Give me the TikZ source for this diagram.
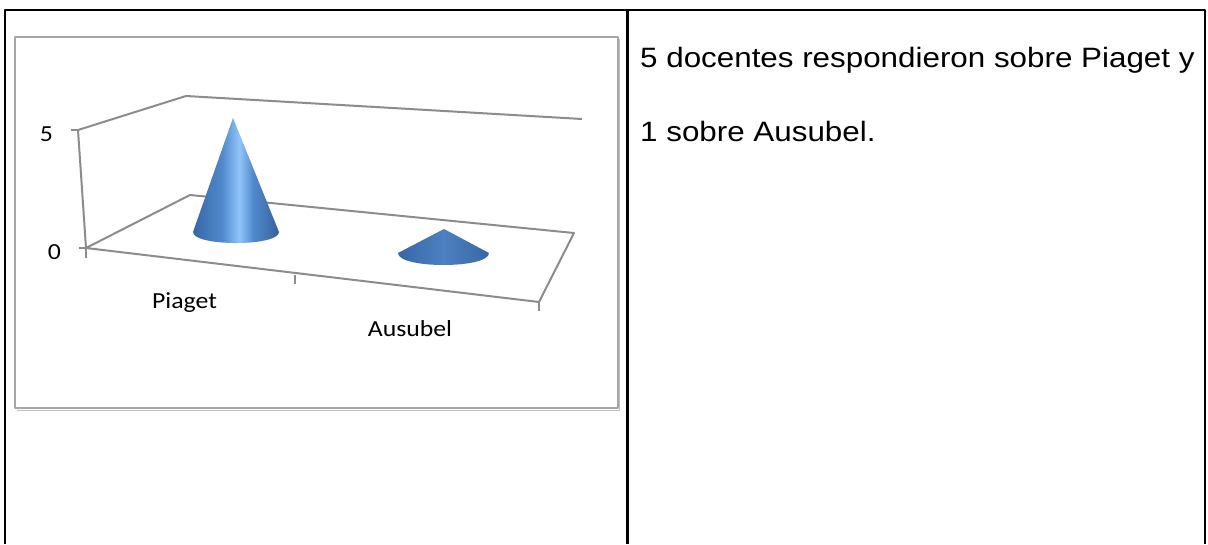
\documentclass[tikz,border=0pt]{standalone}
\usepackage{fontspec}
\usepackage{xcolor}
\usepackage{tikz}
\usetikzlibrary{positioning}
\usetikzlibrary{calc}
\newfontfamily\cellfont[FakeStretch=1.12]{Liberation Sans}
\newfontfamily\chartfont[FakeStretch=1.12]{Carlito}
\definecolor{framegray}{HTML}{A6A6A6}
\definecolor{axisgray}{HTML}{8C8C8C}
\definecolor{conedark}{HTML}{3767A6}
\definecolor{conemid}{HTML}{5189CC}
\definecolor{conelight}{HTML}{90C4FA}
\definecolor{conedeep}{HTML}{35629A}
\definecolor{coneflat}{HTML}{4D80C0}
\pgfdeclarehorizontalshading{conepiaget}{100bp}{color(0bp)=(conedark); color(25bp)=(conedark); color(42bp)=(conemid); color(52bp)=(conelight); color(60bp)=(conemid); color(75bp)=(conedeep); color(100bp)=(conedeep)}

\begin{document}
\begin{tikzpicture}[x=1pt, y=-1pt, line join=round,
  rule/.style={draw=black, line width=2.5},
  axisline/.style={draw=axisgray, line width=2},
  celltext/.style={anchor=base west, inner sep=0, font=\cellfont\fontsize{28}{34}\selectfont},
  charttext/.style={anchor=base, inner sep=0, font=\chartfont\fontsize{23}{28}\selectfont}]
 \useasboundingbox (0,0) rectangle (1208,544);

 %table
 \path[rule] (5,544) -- (5,10) -- (1205,10) -- (1205,544);
 \path[rule] (627.5,10) -- (627.5,544);

 %chart frame
 \path[draw=gray!50, line width=1.5] (17,410.5) -- (619.5,410.5) -- (619.5,39);
 \path[draw=framegray, line width=1.5, fill=white] (15,37) rectangle (618,408);

 %corners
 \coordinate (top5) at (78,130);
 \coordinate (topback) at (186,96);
 \coordinate (topright) at (582,119);
 \coordinate (fl) at (86,248);
 \coordinate (bl) at (190,195);
 \coordinate (br) at (574,233);
 \coordinate (fr) at (539,302);
 \coordinate (fm) at (295,275);

 %walls and floor
 \path[axisline] (topright) -- (topback) -- (top5) -- (fl);
 \path[axisline] (fl) -- (bl) -- (br) -- (fr) -- cycle;

 %ticks
 \path[axisline] (top5) -- ++(-7,0);
 \path[axisline] (fl) -- ++(-7,0);
 \path[axisline] (fl) -- ++(0,10);
 \path[axisline] (fm) -- ++(0,9);
 \path[axisline] (fr) -- ++(0,9);

 %cones
 \path[shading=conepiaget]
   (193,232) -- (233,118) -- (279,232) .. controls (279,246.7) and (193,246.7) .. (193,232) -- cycle;
 \path[left color=conedark, right color=conedark, middle color=coneflat]
   (398,253) -- (444,229) -- (489,253) .. controls (489,269) and (398,269) .. (398,253) -- cycle;

 %axis labels
 \node[charttext] (v5) at (46.5,141) {5};
 \node[charttext] (v0) at (54.5,259) {0};
 \node[charttext] (piaget) at (184.5,308) {Piaget};
 \node[charttext] (ausubel) at (410,336) {Ausubel};

 %cell text
 \node[celltext] (line1) at (640,67.3) {5 docentes respondieron sobre Piaget y};
 \node[celltext] (line2) at (640,141.7) {1 sobre Ausubel.};

\end{tikzpicture}
\end{document}
